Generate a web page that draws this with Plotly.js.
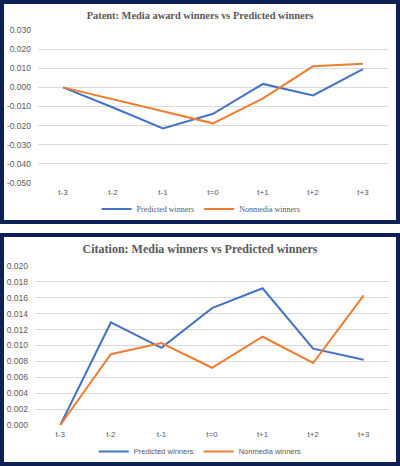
<!DOCTYPE html>
<html>
<head>
<meta charset="utf-8">
<script src="https://cdn.plot.ly/plotly-3.0.1.min.js"></script>
<style>
  html, body { margin: 0; padding: 0; background: #ffffff; width: 400px; height: 466px; overflow: hidden; }
  .box { position: absolute; left: 0; width: 392px; border: 4px solid #0f2154; background: #fff; }
  #top { top: 0; height: 216px; }
  #bot { top: 233px; height: 225px; }
</style>
</head>
<body>
<div id="top" class="box"></div>
<div id="bot" class="box"></div>
<script>
const periods = ["t-3", "t-2", "t-1", "t=0", "t+1", "t+2", "t+3"];

const patentPredicted = [0.000, -0.0105, -0.0215, -0.0138, 0.0018, -0.0042, 0.0096];
const patentNonmedia  = [0.000, -0.0061, -0.0125, -0.0188, -0.0057, 0.0110, 0.0124];

const citationPredicted = [0.000, 0.0129, 0.0097, 0.0147, 0.0172, 0.0096, 0.0082];
const citationNonmedia  = [0.000, 0.0089, 0.0103, 0.0072, 0.0111, 0.0078, 0.0163];

const patentTickVals = [0.03, 0.02, 0.01, 0, -0.01, -0.02, -0.03, -0.04, -0.05];
const patentTickText = ["0.030", "0.020", "0.010", "0.000", "-0.010", "-0.020", "-0.030", "-0.040", "-0.050"];

const citationTickVals = [0.020, 0.018, 0.016, 0.014, 0.012, 0.010, 0.008, 0.006, 0.004, 0.002, 0.000];
const citationTickText = ["0.020", "0.018", "0.016", "0.014", "0.012", "0.010", "0.008", "0.006", "0.004", "0.002", "0.000"];

const seriesNames = ["Predicted winners", "Nonmedia winners"];
const BLUE = "#4472C4", ORANGE = "#ED7D31", GRID = "#D9D9D9", TXT = "#595959";

function makeChart(div, title, pred, nonm, tv, tt, range, margin, tFont, leg) {
  const traces = [
    { x: periods, y: pred, name: seriesNames[0], type: "scatter", mode: "lines",
      line: { color: BLUE, width: 2 } },
    { x: periods, y: nonm, name: seriesNames[1], type: "scatter", mode: "lines",
      line: { color: ORANGE, width: 2 } }
  ];
  const layout = {
    width: 392, height: div === "top" ? 216 : 225,
    margin: Object.assign({ autoexpand: false }, margin),
    paper_bgcolor: "#ffffff", plot_bgcolor: "#ffffff",
    title: { text: title, x: 0.5, xref: "container", xanchor: "center",
             y: tFont.y, yref: "container", yanchor: "middle",
             font: { family: "Liberation Serif", size: tFont.size, color: TXT, weight: "bold" } },
    xaxis: { type: "category", range: [-0.5, 6.5], showgrid: false, zeroline: false, showline: false,
             ticks: "", tickfont: { family: "Liberation Sans", size: 8, color: TXT },
             ticklabelstandoff: 3, fixedrange: true, automargin: false },
    yaxis: { range: range, tickvals: tv, ticktext: tt, showgrid: true, gridcolor: GRID,
             gridwidth: 1, zeroline: false, showline: false, ticks: "",
             ticklabelstandoff: 6, automargin: false,
             tickfont: { family: "Liberation Sans", size: 8.5, color: TXT }, fixedrange: true },
    showlegend: true,
    legend: { orientation: "h", x: leg.x, xanchor: "center", y: leg.y, yanchor: "middle",
              font: { family: leg.family, size: leg.size, color: TXT },
              itemwidth: 30, bgcolor: "rgba(0,0,0,0)", tracegroupgap: 0 }
  };
  Plotly.newPlot(div, traces, layout, { displayModeBar: false, staticPlot: true });
}

makeChart("top", "Patent: Media award winners vs Predicted winners",
  patentPredicted, patentNonmedia, patentTickVals, patentTickText, [-0.05, 0.03],
  { l: 34, r: 8, t: 26, b: 37 }, { size: 10.4, y: 0.949 },
  { family: "Liberation Serif", size: 8, x: 0.466, y: -0.17 });

makeChart("bot", "Citation: Media winners vs Predicted winners",
  citationPredicted, citationNonmedia, citationTickVals, citationTickText, [0, 0.020],
  { l: 31, r: 7, t: 29, b: 37 }, { size: 12, y: 0.947 },
  { family: "Liberation Sans", size: 7.5, x: 0.467, y: -0.166 });
</script>
</body>
</html>
